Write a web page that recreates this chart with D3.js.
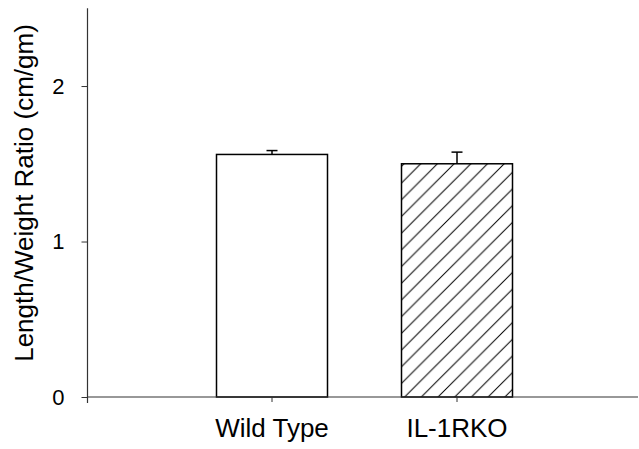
<!DOCTYPE html>
<html>
<head>
<meta charset="utf-8">
<script src="https://cdn.jsdelivr.net/npm/d3@7"></script>
<style>
  body { margin: 0; background: #fff; }
  text { font-family: "Liberation Sans", Arial, sans-serif; fill: #000; }
</style>
</head>
<body>
<div id="chart"></div>
<script>
// chart data
var categories = ["Wild Type", "IL-1RKO"];
var means = [1.56, 1.50];
var errors = [0.025, 0.075];
var yTicks = [0, 1, 2];

var W = 639, H = 449;

var svg = d3.select("#chart")
    .append("svg")
    .attr("width", W)
    .attr("height", H);

//hatch pattern for the knockout bar
var defs = svg.append("defs");
var pat = defs.append("pattern")
    .attr("id", "hatch")
    .attr("patternUnits", "userSpaceOnUse")
    .attr("width", 16.7)
    .attr("height", 16.7);
pat.append("rect")
    .attr("width", 16.7).attr("height", 16.7)
    .attr("fill", "white");
pat.append("path")
    .attr("d", "M-2,2 L2,-2 M0,16.7 L16.7,0 M14.7,18.7 L18.7,14.7")
    .attr("stroke", "#000")
    .attr("stroke-width", 1);

var y = d3.scaleLinear()
    .domain([0, 2.5])
    .range([397, 8.3]);

var x = d3.scaleBand()
    .domain(categories)
    .range([142.5, 586.5])
    .paddingInner(0.4)
    .paddingOuter(0.4);

//bars
svg.selectAll("rect.bar")
    .data(categories)
    .enter()
    .append("rect")
    .attr("class", "bar")
    .attr("x", function(d){ return x(d); })
    .attr("width", x.bandwidth())
    .attr("y", function(d, i){ return y(means[i]); })
    .attr("height", function(d, i){ return y(0) - y(means[i]); })
    .attr("fill", function(d, i){ return i == 0 ? "white" : "url(#hatch)"; })
    .attr("stroke", "#000")
    .attr("stroke-width", 1.5);

//error bars (upper only)
var eb = svg.selectAll("g.err")
    .data(categories)
    .enter()
    .append("g")
    .attr("class", "err")
    .attr("stroke", "#000")
    .attr("stroke-width", 1.5);
eb.append("line")
    .attr("x1", function(d){ return x(d) + x.bandwidth()/2; })
    .attr("x2", function(d){ return x(d) + x.bandwidth()/2; })
    .attr("y1", function(d, i){ return y(means[i]); })
    .attr("y2", function(d, i){ return y(means[i] + errors[i]); });
eb.append("line")
    .attr("x1", function(d){ return x(d) + x.bandwidth()/2 - 5.5; })
    .attr("x2", function(d){ return x(d) + x.bandwidth()/2 + 5.5; })
    .attr("y1", function(d, i){ return y(means[i] + errors[i]); })
    .attr("y2", function(d, i){ return y(means[i] + errors[i]); });

//y axis
var yAxis = svg.append("g")
    .attr("transform", "translate(87.5,0)")
    .call(d3.axisLeft(y).tickValues(yTicks).tickFormat(d3.format("d"))
        .tickSize(6).tickPadding(17));
yAxis.select(".domain").remove();
yAxis.selectAll(".tick line").attr("stroke", "#333");
yAxis.selectAll("text").style("font-size", "22px");
yAxis.append("line")
    .attr("x1", 0).attr("x2", 0)
    .attr("y1", y(2.5)).attr("y2", 403)
    .attr("stroke", "#333")
    .attr("stroke-width", 1.2);

//x axis
var xAxis = svg.append("g")
    .attr("transform", "translate(0,397)")
    .call(d3.axisBottom(x).tickSize(5).tickPadding(17));
xAxis.select(".domain").remove();
xAxis.selectAll(".tick line").attr("stroke", "#333");
xAxis.selectAll("text").style("font-size", "26px");
xAxis.append("line")
    .attr("x1", 87.5).attr("x2", 638)
    .attr("y1", 0).attr("y2", 0)
    .attr("stroke", "#333")
    .attr("stroke-width", 1.2);

//y axis title
svg.append("text")
    .attr("transform", "translate(33,193) rotate(-90)")
    .attr("text-anchor", "middle")
    .style("font-size", "26px")
    .text("Length/Weight Ratio (cm/gm)");
</script>
</body>
</html>
